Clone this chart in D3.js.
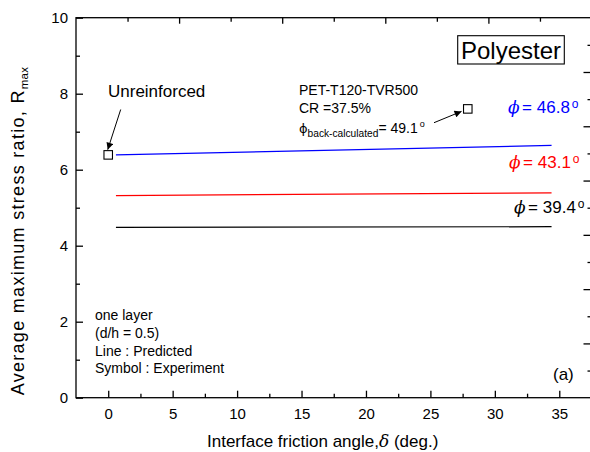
<!DOCTYPE html>
<html>
<head>
<meta charset="utf-8">
<script src="https://cdn.jsdelivr.net/npm/d3@7"></script>
<style>
  html, body { margin: 0; padding: 0; background: #fff; }
  svg { display: block; }
  text { font-family: Arial, "Liberation Sans", sans-serif; }
</style>
</head>
<body>
<svg id="chart" width="590" height="452"></svg>
<script>
// ---------- data ----------
const xTicksMajor = [0, 5, 10, 15, 20, 25, 30, 35];
const yTicksMajor = [0, 2, 4, 6, 8, 10];
const deltaLine = [0.6, 34.4];            // interface friction angle range of predicted lines
const predBlue = [6.39, 6.64];             // phi = 46.8
const predRed = [5.32, 5.39];              // phi = 43.1
const predBlack = [4.48, 4.50];            // phi = 39.4
const seriesNames = ["46.8", "43.1", "39.4"];
const seriesColors = ["#0000ff", "#ff0000", "#000000"];
const expDelta = [0, 27.9];                // experiment symbols
const expR = [6.39, 7.60];

// ---------- layout ----------
const svg = d3.select("#chart");
const L = 76, R = 591.5, T = 17.7, B = 397.7;
const x = d3.scaleLinear().domain([-2.5, 37.5]).range([L, R]);
const y = d3.scaleLinear().domain([0, 10]).range([B, T]);
const xTop = d3.scaleLinear().domain([0, 5]).range([L, R]);
const yRight = d3.scaleLinear().domain([0, 7]).range([B, T]);

// frame
svg.append("rect").attr("x", L).attr("y", T).attr("width", R - L).attr("height", B - T)
  .attr("fill", "none").attr("stroke", "#000").attr("stroke-width", 1.3);

function styleAxis(g) {
  g.select(".domain").remove();
  g.selectAll(".tick line").attr("stroke", "#000").attr("stroke-width", 1.3);
}

// bottom axis
svg.append("g").attr("transform", `translate(0,${B})`)
  .call(d3.axisBottom(x).tickValues(xTicksMajor).tickSize(-7).tickPadding(11).tickFormat(d3.format("d")))
  .call(styleAxis)
  .call(g => g.selectAll("text").attr("font-size", 15).attr("fill", "#000").attr("font-family", "Arial, 'Liberation Sans', sans-serif"));
svg.append("g").attr("transform", `translate(0,${B})`)
  .call(d3.axisBottom(x).tickValues(d3.range(-2.5, 37.6, 5).filter(v => v > -2.5 && v < 37.5)).tickSize(-4).tickFormat(""))
  .call(styleAxis);

// left axis
svg.append("g").attr("transform", `translate(${L},0)`)
  .call(d3.axisLeft(y).tickValues(yTicksMajor).tickSize(-7).tickPadding(8).tickFormat(d3.format("d")))
  .call(styleAxis)
  .call(g => g.selectAll("text").attr("font-size", 15).attr("fill", "#000").attr("font-family", "Arial, 'Liberation Sans', sans-serif"));
svg.append("g").attr("transform", `translate(${L},0)`)
  .call(d3.axisLeft(y).tickValues([1, 3, 5, 7, 9]).tickSize(-4).tickFormat(""))
  .call(styleAxis);

// top axis (secondary layer, no labels)
svg.append("g").attr("transform", `translate(0,${T})`)
  .call(d3.axisTop(xTop).tickValues([1, 2, 3, 4]).tickSize(-6).tickFormat(""))
  .call(styleAxis);
svg.append("g").attr("transform", `translate(0,${T})`)
  .call(d3.axisTop(xTop).tickValues([0.5, 1.5, 2.5, 3.5, 4.5]).tickSize(-4).tickFormat(""))
  .call(styleAxis);

// right axis (secondary layer, no labels)
svg.append("g").attr("transform", `translate(${R},0)`)
  .call(d3.axisRight(yRight).tickValues([1, 2, 3, 4, 5, 6]).tickSize(-8).tickFormat(""))
  .call(styleAxis);
svg.append("g").attr("transform", `translate(${R},0)`)
  .call(d3.axisRight(yRight).tickValues([0.5, 1.5, 2.5, 3.5, 4.5, 5.5, 6.5]).tickSize(-4).tickFormat(""))
  .call(styleAxis);

// predicted lines
const line = d3.line().x(d => x(d[0])).y(d => y(d[1]));
[predBlue, predRed, predBlack].forEach((vals, i) => {
  svg.append("path")
    .datum(deltaLine.map((d, j) => [d, vals[j]]))
    .attr("d", line).attr("fill", "none")
    .attr("stroke", seriesColors[i]).attr("stroke-width", 1.2);
});

// experiment symbols
const sq = 8.5;
svg.selectAll("rect.sym").data(expDelta.map((d, i) => [d, expR[i]])).enter()
  .append("rect").attr("class", "sym")
  .attr("x", d => x(d[0]) - sq / 2).attr("y", d => y(d[1]) - sq / 2)
  .attr("width", sq).attr("height", sq)
  .attr("fill", "#fff").attr("stroke", "#000").attr("stroke-width", 1.1);

// arrow marker
svg.append("defs").append("marker").attr("id", "arr")
  .attr("viewBox", "0 0 10 10").attr("refX", 10).attr("refY", 5)
  .attr("markerWidth", 9).attr("markerHeight", 7).attr("markerUnits", "userSpaceOnUse")
  .attr("orient", "auto")
  .append("path").attr("d", "M0,0 L10,5 L0,10 Z").attr("fill", "#000");

// Unreinforced annotation
svg.append("line").attr("x1", 120.7).attr("y1", 109.5)
  .attr("x2", x(expDelta[0]) - 0.5).attr("y2", y(expR[0]) - sq / 2 - 1)
  .attr("stroke", "#000").attr("stroke-width", 1).attr("marker-end", "url(#arr)");
svg.append("text").attr("x", 108).attr("y", 96.5).attr("font-size", 17).text("Unreinforced");

// PET annotation
svg.append("line").attr("x1", 434).attr("y1", 122.7)
  .attr("x2", x(expDelta[1]) - sq / 2 - 2).attr("y2", y(expR[1]) + 2.5)
  .attr("stroke", "#000").attr("stroke-width", 1).attr("marker-end", "url(#arr)");
svg.append("text").attr("x", 299).attr("y", 95).attr("font-size", 14).text("PET-T120-TVR500");
svg.append("text").attr("x", 299).attr("y", 113.3).attr("font-size", 14).text("CR =37.5%");
const bc = svg.append("text").attr("x", 299).attr("y", 133.3).attr("font-size", 14);
bc.append("tspan").text("\u03D5").attr("font-family", "'DejaVu Sans', sans-serif").attr("font-size", 13);
bc.append("tspan").text("back-calculated").attr("font-size", 10.2).attr("dy", 4);
bc.append("tspan").text("= 49.1").attr("dy", -4);
bc.append("tspan").text("o").attr("font-size", 9).attr("dx", 2).attr("dy", -6);

// Polyester box
svg.append("rect").attr("x", 457.7).attr("y", 35.7).attr("width", 106.6).attr("height", 28.3)
  .attr("fill", "#fff").attr("stroke", "#000").attr("stroke-width", 1.1);
svg.append("text").attr("x", 511).attr("y", 58.5).attr("text-anchor", "middle")
  .attr("font-size", 24).text("Polyester");

// phi labels
const phiPos = [[508, 113.3], [509, 168.3], [514, 213.3]];
seriesNames.forEach((nm, i) => {
  const t = svg.append("text").attr("x", phiPos[i][0]).attr("y", phiPos[i][1])
    .attr("font-size", 17).attr("fill", seriesColors[i]);
  t.append("tspan").text("\u03D5").attr("font-family", "'DejaVu Serif', serif")
    .attr("font-style", "italic").attr("font-size", 17);
  t.append("tspan").text("= " + nm).attr("dx", 2.5);
  t.append("tspan").text("o").attr("font-size", 12).attr("dx", 2).attr("dy", -5);
});

// bottom-left note
const notes = ["one layer", "(d/h = 0.5)", "Line : Predicted", "Symbol : Experiment"];
svg.selectAll("text.note").data(notes).enter().append("text").attr("class", "note")
  .attr("x", 95).attr("y", (d, i) => 320 + i * 17.8).attr("font-size", 14).text(d => d);

// (a)
svg.append("text").attr("x", 553).attr("y", 380).attr("font-size", 17).text("(a)");

// axis titles
const xt = svg.append("text").attr("x", 207).attr("y", 447).attr("font-size", 17);
xt.append("tspan").text("Interface friction angle,");
xt.append("tspan").text("\u03B4").attr("font-family", "'DejaVu Serif', serif").attr("font-style", "italic");
xt.append("tspan").text(" (deg.)");

const yt = svg.append("text").attr("transform", "translate(24,231) rotate(-90)")
  .attr("text-anchor", "middle").attr("font-size", 18).attr("letter-spacing", 1.3);
yt.append("tspan").text("Average maximum stress ratio, R");
yt.append("tspan").text("max").attr("font-size", 11.5).attr("dy", 4).attr("letter-spacing", 0.3);
</script>
</body>
</html>
